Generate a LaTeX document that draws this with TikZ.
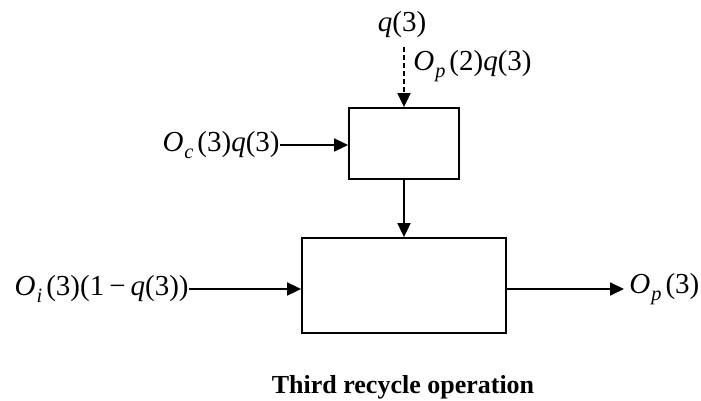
\documentclass[tikz,border=0pt]{standalone}
\usepackage{fontspec}
\setmainfont{Liberation Serif}
\usetikzlibrary{arrows.meta}
\newcommand{\vsub}[2]{\textit{#1}\kern0.5pt\raisebox{-1.5pt}{\textsubscript{\textit{#2}}}\kern1.5pt}
\tikzset{
  blk/.style={draw, line width=0.9pt, inner sep=0pt},
  lbl/.style={inner sep=0pt, font=\fontsize{14.5}{17}\selectfont},
  flow/.style={line width=0.9pt, -{Triangle[length=7pt,width=6.5pt]}}
}
\begin{document}
\begin{tikzpicture}[x=0.5pt, y=-0.5pt]
  \useasboundingbox (0,0) rectangle (701,401);
  % blocks
  \node[blk, minimum width=55pt, minimum height=35.5pt] (top) at (404,143.5) {};
  \node[blk, minimum width=102pt, minimum height=47.5pt] (main) at (404,285.5) {};
  % labels
  \node[lbl] (q) at (402,25) {\textit{q}(3)};
  \node[lbl, anchor=west] (opq) at (413,66) {\vsub{O}{p}(2)\textit{q}(3)};
  \node[lbl, anchor=east] (ocq) at (280,145) {\vsub{O}{c}(3)\textit{q}(3)};
  \node[lbl, anchor=east] (oiq) at (189,289) {\vsub{O}{i}(3)(1\kern2.5pt−\kern2.5pt\textit{q}(3))};
  \node[lbl, anchor=west] (op) at (629,289) {\vsub{O}{p}(3)};
  \node[font=\fontsize{13}{15}\selectfont\bfseries] (cap) at (403,387) {Third recycle operation};
  % arrows
  \draw[flow, dash pattern=on 2.5pt off 1.5pt] ([yshift=-4pt]q.south -| top.north) -- (top.north);
  \draw[flow] (ocq.east) -- (ocq.east -| top.west);
  \draw[flow] (top.south) -- (main.north);
  \draw[flow] (oiq.east) -- (oiq.east -| main.west);
  \draw[flow] (main.east |- op.west) -- ([xshift=-2.5pt]op.west);
\end{tikzpicture}
\end{document}
